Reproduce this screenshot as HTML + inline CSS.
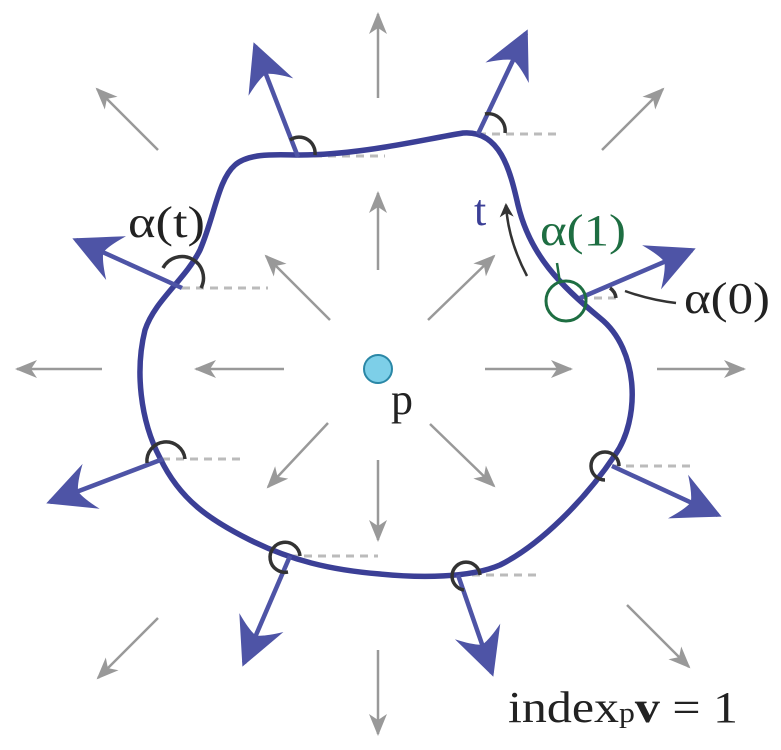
<!DOCTYPE html>
<html><head><style>html,body{margin:0;padding:0;background:#fff}svg{display:block}svg text{font-family:"Liberation Serif","DejaVu Serif",serif}</style></head>
<body>
<svg width="781" height="750" viewBox="0 0 781 750" xmlns="http://www.w3.org/2000/svg">
<defs>
<marker id="g" markerUnits="userSpaceOnUse" markerWidth="30" markerHeight="30" refX="0" refY="0" orient="auto" overflow="visible">
<path d="M2,0 L-20,-9 L-14,0 L-20,9 Z" fill="#999"/>
</marker>
<marker id="b" markerUnits="userSpaceOnUse" markerWidth="60" markerHeight="60" refX="0" refY="0" orient="auto" overflow="visible">
<path d="M4,0 Q-18,-11 -44,-24 Q-32,-8 -30,0 Q-32,8 -44,24 Q-18,11 4,0 Z" fill="#4e54a6"/>
</marker>
<marker id="k" markerUnits="userSpaceOnUse" markerWidth="20" markerHeight="20" refX="0" refY="0" orient="auto" overflow="visible">
<path d="M2,0 L-12,-7 L-8,0 L-12,7 Z" fill="#333"/>
</marker>
</defs>
<g stroke="#999" stroke-width="2.5" fill="none" marker-end="url(#g)">
<line x1="378" y1="98" x2="378" y2="14"/>
<line x1="378" y1="650" x2="378" y2="734"/>
<line x1="102" y1="369" x2="17" y2="369"/>
<line x1="657" y1="369" x2="744" y2="369"/>
<line x1="158" y1="150" x2="97" y2="89"/>
<line x1="602" y1="150" x2="663" y2="89"/>
<line x1="158" y1="618" x2="98" y2="678"/>
<line x1="627" y1="605" x2="689" y2="667"/>
<line x1="378" y1="270" x2="378" y2="193"/>
<line x1="378" y1="460" x2="378" y2="540"/>
<line x1="284" y1="369" x2="196" y2="369"/>
<line x1="485" y1="369" x2="571" y2="369"/>
<line x1="330" y1="320" x2="266" y2="256"/>
<line x1="428" y1="320" x2="494" y2="256"/>
<line x1="328" y1="423" x2="268" y2="487"/>
<line x1="430" y1="424" x2="494" y2="486"/>
</g>
<g stroke="#bbb" stroke-width="3" stroke-dasharray="8,6" fill="none">
<line x1="300" y1="156" x2="385" y2="156"/>
<line x1="478" y1="134" x2="560" y2="134"/>
<line x1="182" y1="288" x2="268" y2="288"/>
<line x1="580" y1="298" x2="618" y2="298"/>
<line x1="612" y1="466" x2="692" y2="466"/>
<line x1="458" y1="575" x2="540" y2="575"/>
<line x1="290" y1="556" x2="378" y2="556"/>
<line x1="162" y1="459" x2="244" y2="459"/>
</g>
<path d="M463,133 C500,130 510,170 518,205 C530,255 560,285 600,318 C640,350 640,420 615,455 C585,500 540,545 500,565 C470,578 420,578 380,574 C330,570 290,560 250,540 C210,520 180,500 160,458 C140,420 135,370 145,330 C155,300 185,280 200,250 C215,215 218,180 235,165 C250,152 280,155 300,155 C360,155 420,140 463,133 Z" fill="none" stroke="#3b3f96" stroke-width="5.5"/>
<g stroke="#4e54a6" stroke-width="4.5" fill="none" marker-end="url(#b)">
<line x1="298" y1="157" x2="255" y2="46"/>
<line x1="478" y1="134" x2="526" y2="33"/>
<line x1="182" y1="288" x2="76" y2="240"/>
<line x1="580" y1="298" x2="692" y2="250"/>
<line x1="612" y1="466" x2="718" y2="515"/>
<line x1="458" y1="575" x2="492" y2="673"/>
<line x1="290" y1="556" x2="244" y2="663"/>
<line x1="163" y1="459" x2="50" y2="502"/>
</g>
<g stroke="#333" stroke-width="3.5" fill="none">
<path d="M290,140 A16,16 0 0 1 315,155"/>
<path d="M485,114 A17,17 0 0 1 505,133"/>
<path d="M163,268 A20,20 0 0 1 201,288"/>
<path d="M610,288 A14,14 0 0 1 616,298"/>
<path d="M625,291 Q650,300 676,303" stroke-width="2.5"/>
<path d="M619,466 A14,14 0 1 0 605,480"/>
<path d="M480,575 A14,14 0 1 0 464,590"/>
<path d="M300,556 A15,15 0 1 0 288,572"/>
<path d="M147,463 A17,17 0 1 1 185,459"/>
</g>
<path d="M527,276 Q508,240 506,205" stroke="#333" stroke-width="2.5" fill="none" marker-end="url(#k)"/>
<circle cx="566" cy="301" r="20" fill="none" stroke="#1e6e42" stroke-width="3"/>
<line x1="557" y1="263" x2="560" y2="283" stroke="#1e6e42" stroke-width="2.5"/>
<circle cx="378" cy="369" r="14" fill="#7dcfe8" stroke="#2a87a6" stroke-width="2"/>
<g font-size="44" fill="#222">
<text x="128" y="237" textLength="77" lengthAdjust="spacingAndGlyphs">α(t)</text>
<text x="474" y="225" fill="#3b3f96">t</text>
<text x="540" y="245" fill="#1e6e42" textLength="86" lengthAdjust="spacingAndGlyphs">α(1)</text>
<text x="684" y="313" textLength="86" lengthAdjust="spacingAndGlyphs">α(0)</text>
<text x="391" y="414">p</text>
<text x="508" y="722" textLength="230" lengthAdjust="spacingAndGlyphs">index<tspan font-size="28">p</tspan><tspan font-weight="bold">v</tspan> = 1</text>
</g>
</svg>
</body></html>
